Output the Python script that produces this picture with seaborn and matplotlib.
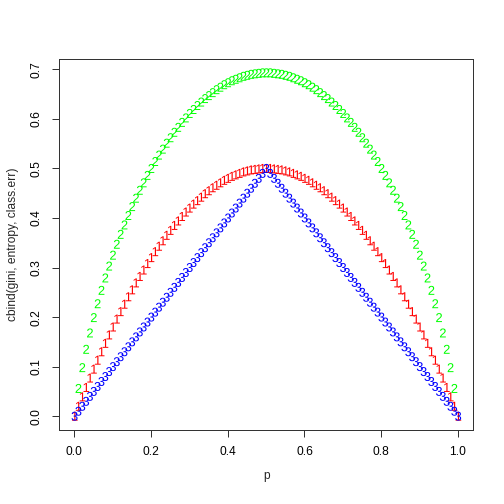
import numpy as np
import pandas as pd
import matplotlib
matplotlib.use("Agg")
import matplotlib.pyplot as plt
from matplotlib.textpath import TextPath
from matplotlib.font_manager import FontProperties
from matplotlib.path import Path
import seaborn as sns

# p grid and the three impurity curves (0.01 steps)
p = [0.00, 0.01, 0.02, 0.03, 0.04, 0.05, 0.06, 0.07, 0.08, 0.09,
     0.10, 0.11, 0.12, 0.13, 0.14, 0.15, 0.16, 0.17, 0.18, 0.19,
     0.20, 0.21, 0.22, 0.23, 0.24, 0.25, 0.26, 0.27, 0.28, 0.29,
     0.30, 0.31, 0.32, 0.33, 0.34, 0.35, 0.36, 0.37, 0.38, 0.39,
     0.40, 0.41, 0.42, 0.43, 0.44, 0.45, 0.46, 0.47, 0.48, 0.49,
     0.50, 0.51, 0.52, 0.53, 0.54, 0.55, 0.56, 0.57, 0.58, 0.59,
     0.60, 0.61, 0.62, 0.63, 0.64, 0.65, 0.66, 0.67, 0.68, 0.69,
     0.70, 0.71, 0.72, 0.73, 0.74, 0.75, 0.76, 0.77, 0.78, 0.79,
     0.80, 0.81, 0.82, 0.83, 0.84, 0.85, 0.86, 0.87, 0.88, 0.89,
     0.90, 0.91, 0.92, 0.93, 0.94, 0.95, 0.96, 0.97, 0.98, 0.99,
     1.00]

gini = [0.000, 0.020, 0.039, 0.058, 0.077, 0.095, 0.113, 0.130, 0.147, 0.164,
        0.180, 0.196, 0.211, 0.226, 0.241, 0.255, 0.269, 0.282, 0.295, 0.308,
        0.320, 0.332, 0.343, 0.354, 0.365, 0.375, 0.385, 0.394, 0.403, 0.412,
        0.420, 0.428, 0.435, 0.442, 0.449, 0.455, 0.461, 0.466, 0.471, 0.476,
        0.480, 0.484, 0.487, 0.490, 0.493, 0.495, 0.497, 0.498, 0.499, 0.500,
        0.500, 0.500, 0.499, 0.498, 0.497, 0.495, 0.493, 0.490, 0.487, 0.484,
        0.480, 0.476, 0.471, 0.466, 0.461, 0.455, 0.449, 0.442, 0.435, 0.428,
        0.420, 0.412, 0.403, 0.394, 0.385, 0.375, 0.365, 0.354, 0.343, 0.332,
        0.320, 0.308, 0.295, 0.282, 0.269, 0.255, 0.241, 0.226, 0.211, 0.196,
        0.180, 0.164, 0.147, 0.130, 0.113, 0.095, 0.077, 0.058, 0.039, 0.020,
        0.000]

entropy = [np.nan, 0.056, 0.098, 0.135, 0.168, 0.199, 0.227, 0.254, 0.279, 0.303,
           0.325, 0.347, 0.367, 0.386, 0.405, 0.423, 0.440, 0.456, 0.471, 0.486,
           0.500, 0.514, 0.527, 0.539, 0.551, 0.562, 0.573, 0.583, 0.593, 0.602,
           0.611, 0.619, 0.627, 0.634, 0.641, 0.647, 0.653, 0.659, 0.664, 0.669,
           0.673, 0.677, 0.680, 0.683, 0.686, 0.688, 0.690, 0.691, 0.692, 0.693,
           0.693, 0.693, 0.692, 0.691, 0.690, 0.688, 0.686, 0.683, 0.680, 0.677,
           0.673, 0.669, 0.664, 0.659, 0.653, 0.647, 0.641, 0.634, 0.627, 0.619,
           0.611, 0.602, 0.593, 0.583, 0.573, 0.562, 0.551, 0.539, 0.527, 0.514,
           0.500, 0.486, 0.471, 0.456, 0.440, 0.423, 0.405, 0.386, 0.367, 0.347,
           0.325, 0.303, 0.279, 0.254, 0.227, 0.199, 0.168, 0.135, 0.098, 0.056,
           np.nan]

class_err = [0.00, 0.01, 0.02, 0.03, 0.04, 0.05, 0.06, 0.07, 0.08, 0.09,
             0.10, 0.11, 0.12, 0.13, 0.14, 0.15, 0.16, 0.17, 0.18, 0.19,
             0.20, 0.21, 0.22, 0.23, 0.24, 0.25, 0.26, 0.27, 0.28, 0.29,
             0.30, 0.31, 0.32, 0.33, 0.34, 0.35, 0.36, 0.37, 0.38, 0.39,
             0.40, 0.41, 0.42, 0.43, 0.44, 0.45, 0.46, 0.47, 0.48, 0.49,
             0.50, 0.49, 0.48, 0.47, 0.46, 0.45, 0.44, 0.43, 0.42, 0.41,
             0.40, 0.39, 0.38, 0.37, 0.36, 0.35, 0.34, 0.33, 0.32, 0.31,
             0.30, 0.29, 0.28, 0.27, 0.26, 0.25, 0.24, 0.23, 0.22, 0.21,
             0.20, 0.19, 0.18, 0.17, 0.16, 0.15, 0.14, 0.13, 0.12, 0.11,
             0.10, 0.09, 0.08, 0.07, 0.06, 0.05, 0.04, 0.03, 0.02, 0.01,
             0.00]

x_ticks = [0.0, 0.2, 0.4, 0.6, 0.8, 1.0]
y_ticks = [0.0, 0.1, 0.2, 0.3, 0.4, 0.5, 0.6, 0.7]

sns.set_style("ticks")
plt.rcParams["font.family"] = ["Liberation Sans", "DejaVu Sans"]


def glyph(ch):
    # digit glyph as a marker path, centred on the point like R's pch chars
    tp = TextPath((0, 0), ch, size=10, prop=FontProperties(family="Liberation Sans"))
    v = tp.vertices.copy()
    (x0, y0), (x1, y1) = v.min(axis=0), v.max(axis=0)
    v[:, 0] -= (x0 + x1) / 2
    v[:, 1] -= (y0 + y1) / 2
    return Path(v, tp.codes)


df = pd.concat([
    pd.DataFrame({"p": p, "value": gini, "series": "gini"}),
    pd.DataFrame({"p": p, "value": entropy, "series": "entropy"}),
    pd.DataFrame({"p": p, "value": class_err, "series": "class.err"}),
]).dropna()

fig = plt.figure(figsize=(7, 7), dpi=72)
ax = fig.add_axes([0.117, 0.147, 0.822, 0.736])

sns.scatterplot(data=df, x="p", y="value", hue="series", style="series",
                palette={"gini": "#FF0000", "entropy": "#00FF00", "class.err": "#0000FF"},
                markers={"gini": glyph("1"), "entropy": glyph("2"), "class.err": glyph("3")},
                s=81, linewidth=0, legend=False, ax=ax)

ax.set_xlim(-0.04, 1.04)
ax.set_ylim(-0.0277, 0.7209)
ax.set_xticks(x_ticks)
ax.set_xticklabels([f"{v:.1f}" for v in x_ticks])
ax.set_yticks(y_ticks)
ax.set_yticklabels([f"{v:.1f}" for v in y_ticks], rotation=90, va="center")
ax.tick_params(axis="both", direction="out", length=7, width=1, color="#333333",
               labelsize=12, labelcolor="black")
ax.tick_params(axis="x", pad=9)
ax.tick_params(axis="y", pad=9)
for sp in ax.spines.values():
    sp.set_visible(True)
    sp.set_color("#333333")
    sp.set_linewidth(1)

ax.set_xlabel("p", fontsize=12, labelpad=12)
ax.set_ylabel("cbind(gini, entropy, class.err)", fontsize=12, labelpad=12)

fig.savefig("out.png", dpi=72)
